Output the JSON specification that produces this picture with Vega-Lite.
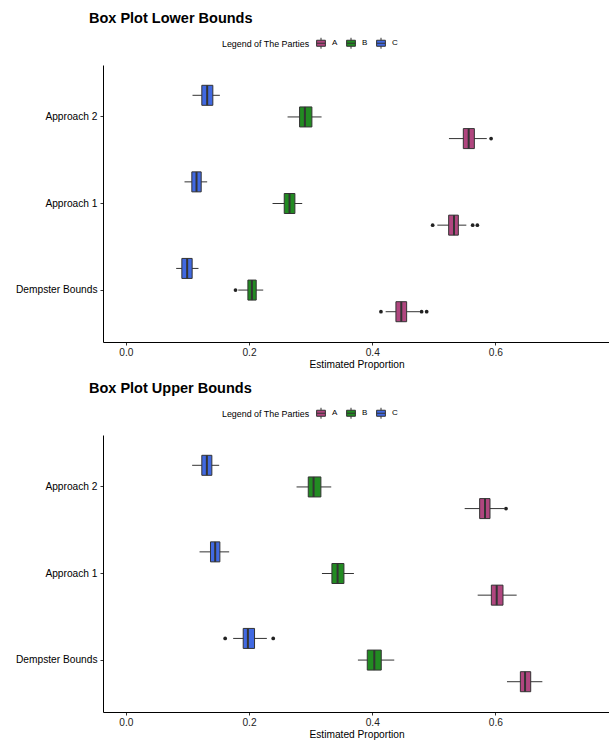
{
  "$schema": "https://vega.github.io/schema/vega-lite/v6.json",
  "padding": {"left": 15, "top": 10, "right": 0, "bottom": 0},
  "background": "white",
  "config": {
    "font": "Liberation Sans",
    "view": {"stroke": null},
    "axis": {"grid": false, "domainColor": "#000000", "domainWidth": 1, "tickColor": "#333333", "tickSize": 3, "labelFontSize": 10.2, "labelColor": "#222222", "titleFontSize": 10.2, "titleFontWeight": "normal", "titleColor": "#000000"},
    "title": {"fontSize": 14.5, "fontWeight": "bold", "color": "#000000", "anchor": "start", "frame": "group", "dx": -14, "offset": 11},
    "legend": {"titleFontSize": 8.9, "titleFontWeight": "normal", "labelFontSize": 8, "titleColor": "#000000", "labelColor": "#000000"}
  },
  "datasets": {
    "lower": [
      {"method": "Approach 2", "party": "C", "lo": 0.1083, "q1": 0.1234, "med": 0.1321, "q3": 0.1413, "hi": 0.1527},
      {"method": "Approach 2", "party": "B", "lo": 0.2626, "q1": 0.2821, "med": 0.2907, "q3": 0.3021, "hi": 0.3178},
      {"method": "Approach 2", "party": "A", "lo": 0.5246, "q1": 0.5479, "med": 0.5566, "q3": 0.5658, "hi": 0.5860},
      {"method": "Approach 1", "party": "C", "lo": 0.0953, "q1": 0.1072, "med": 0.1148, "q3": 0.1224, "hi": 0.1321},
      {"method": "Approach 1", "party": "B", "lo": 0.2382, "q1": 0.2572, "med": 0.2658, "q3": 0.2745, "hi": 0.2864},
      {"method": "Approach 1", "party": "A", "lo": 0.5057, "q1": 0.5241, "med": 0.5328, "q3": 0.5398, "hi": 0.5528},
      {"method": "Dempster Bounds", "party": "C", "lo": 0.0818, "q1": 0.0910, "med": 0.0996, "q3": 0.1077, "hi": 0.1180},
      {"method": "Dempster Bounds", "party": "B", "lo": 0.1825, "q1": 0.1982, "med": 0.2047, "q3": 0.2117, "hi": 0.2231},
      {"method": "Dempster Bounds", "party": "A", "lo": 0.4218, "q1": 0.4385, "med": 0.4472, "q3": 0.4559, "hi": 0.4775}
    ],
    "lowerOut": [
      {"method": "Approach 2", "party": "A", "value": 0.5930},
      {"method": "Approach 1", "party": "A", "value": 0.4981},
      {"method": "Approach 1", "party": "A", "value": 0.5631},
      {"method": "Approach 1", "party": "A", "value": 0.5707},
      {"method": "Dempster Bounds", "party": "B", "value": 0.1781},
      {"method": "Dempster Bounds", "party": "A", "value": 0.4142},
      {"method": "Dempster Bounds", "party": "A", "value": 0.4802},
      {"method": "Dempster Bounds", "party": "A", "value": 0.4884}
    ],
    "upper": [
      {"method": "Approach 2", "party": "C", "lo": 0.1077, "q1": 0.1234, "med": 0.1316, "q3": 0.1397, "hi": 0.1516},
      {"method": "Approach 2", "party": "B", "lo": 0.2772, "q1": 0.2962, "med": 0.3048, "q3": 0.3167, "hi": 0.3335},
      {"method": "Approach 2", "party": "A", "lo": 0.5501, "q1": 0.5744, "med": 0.5831, "q3": 0.5912, "hi": 0.6145},
      {"method": "Approach 1", "party": "C", "lo": 0.1197, "q1": 0.1375, "med": 0.1451, "q3": 0.1527, "hi": 0.1678},
      {"method": "Approach 1", "party": "B", "lo": 0.3184, "q1": 0.3346, "med": 0.3438, "q3": 0.3541, "hi": 0.3703},
      {"method": "Approach 1", "party": "A", "lo": 0.5712, "q1": 0.5934, "med": 0.6021, "q3": 0.6123, "hi": 0.6345},
      {"method": "Dempster Bounds", "party": "C", "lo": 0.1743, "q1": 0.1906, "med": 0.1982, "q3": 0.2090, "hi": 0.2290},
      {"method": "Dempster Bounds", "party": "B", "lo": 0.3768, "q1": 0.3920, "med": 0.4034, "q3": 0.4147, "hi": 0.4358},
      {"method": "Dempster Bounds", "party": "A", "lo": 0.6188, "q1": 0.6405, "med": 0.6481, "q3": 0.6573, "hi": 0.6762}
    ],
    "upperOut": [
      {"method": "Approach 2", "party": "A", "value": 0.6172},
      {"method": "Dempster Bounds", "party": "C", "value": 0.1613},
      {"method": "Dempster Bounds", "party": "C", "value": 0.2393}
    ]
  },
  "resolve": {"legend": {"color": "independent"}},
  "spacing": 10,
  "vconcat": [
    {
      "title": "Box Plot Lower Bounds",
      "width": 507,
      "height": 277,
      "encoding": {
        "y": {"field": "method", "type": "nominal", "title": null, "sort": ["Approach 2", "Approach 1", "Dempster Bounds"], "scale": {"domain": ["Approach 2", "Approach 1", "Dempster Bounds"], "paddingInner": 0.25, "paddingOuter": 0.225}, "axis": {"labelColor": "#000000", "labelPadding": 3}},
        "yOffset": {"field": "party", "type": "nominal", "sort": ["C", "B", "A"], "scale": {"domain": ["C", "B", "A"], "paddingInner": 0, "paddingOuter": 0}}
      },
      "layer": [
        {
          "data": {"name": "lower"},
          "mark": {"type": "rule", "color": "#333333", "strokeWidth": 1},
          "encoding": {
            "x": {"field": "lo", "type": "quantitative", "title": "Estimated Proportion", "scale": {"domain": [-0.037, 0.786], "nice": false, "zero": false}, "axis": {"values": [0, 0.2, 0.4, 0.6], "format": ".1f", "labelPadding": 2, "titlePadding": 2}},
            "x2": {"field": "hi"}
          }
        },
        {
          "data": {"name": "lower"},
          "mark": {"type": "bar", "size": 20, "stroke": "#333333", "strokeWidth": 1, "opacity": 1},
          "encoding": {
            "x": {"field": "q1", "type": "quantitative"},
            "x2": {"field": "q3"},
            "color": {"field": "party", "type": "nominal", "scale": {"domain": ["A", "B", "C"], "range": ["#B0467F", "#228B22", "#4169E1"]}, "legend": {"orient": "none", "legendX": 119, "legendY": -28, "direction": "horizontal", "title": "Legend of The Parties", "titleOrient": "left", "titlePadding": 5, "symbolType": "M-0.8,-0.55H0.8V0.55H-0.8Z M-0.8,0H0.8 M0,-1V-0.55 M0,0.55V1", "symbolSize": 120, "symbolStrokeColor": "#333333", "symbolStrokeWidth": 1, "symbolOpacity": 1, "columnPadding": 6, "labelOffset": 5}}
          }
        },
        {
          "data": {"name": "lower"},
          "mark": {"type": "tick", "orient": "vertical", "size": 20, "thickness": 2, "color": "#333333", "opacity": 1},
          "encoding": {"x": {"field": "med", "type": "quantitative"}}
        },
        {
          "data": {"name": "lowerOut"},
          "mark": {"type": "circle", "size": 14, "color": "#222222", "opacity": 1},
          "encoding": {"x": {"field": "value", "type": "quantitative"}}
        }
      ]
    },
    {
      "title": "Box Plot Upper Bounds",
      "width": 507,
      "height": 277,
      "encoding": {
        "y": {"field": "method", "type": "nominal", "title": null, "sort": ["Approach 2", "Approach 1", "Dempster Bounds"], "scale": {"domain": ["Approach 2", "Approach 1", "Dempster Bounds"], "paddingInner": 0.25, "paddingOuter": 0.225}, "axis": {"labelColor": "#000000", "labelPadding": 3}},
        "yOffset": {"field": "party", "type": "nominal", "sort": ["C", "B", "A"], "scale": {"domain": ["C", "B", "A"], "paddingInner": 0, "paddingOuter": 0}}
      },
      "layer": [
        {
          "data": {"name": "upper"},
          "mark": {"type": "rule", "color": "#333333", "strokeWidth": 1},
          "encoding": {
            "x": {"field": "lo", "type": "quantitative", "title": "Estimated Proportion", "scale": {"domain": [-0.037, 0.786], "nice": false, "zero": false}, "axis": {"values": [0, 0.2, 0.4, 0.6], "format": ".1f", "labelPadding": 2, "titlePadding": 2}},
            "x2": {"field": "hi"}
          }
        },
        {
          "data": {"name": "upper"},
          "mark": {"type": "bar", "size": 20, "stroke": "#333333", "strokeWidth": 1, "opacity": 1},
          "encoding": {
            "x": {"field": "q1", "type": "quantitative"},
            "x2": {"field": "q3"},
            "color": {"field": "party", "type": "nominal", "scale": {"domain": ["A", "B", "C"], "range": ["#B0467F", "#228B22", "#4169E1"]}, "legend": {"orient": "none", "legendX": 119, "legendY": -28, "direction": "horizontal", "title": "Legend of The Parties", "titleOrient": "left", "titlePadding": 5, "symbolType": "M-0.8,-0.55H0.8V0.55H-0.8Z M-0.8,0H0.8 M0,-1V-0.55 M0,0.55V1", "symbolSize": 120, "symbolStrokeColor": "#333333", "symbolStrokeWidth": 1, "symbolOpacity": 1, "columnPadding": 6, "labelOffset": 5}}
          }
        },
        {
          "data": {"name": "upper"},
          "mark": {"type": "tick", "orient": "vertical", "size": 20, "thickness": 2, "color": "#333333", "opacity": 1},
          "encoding": {"x": {"field": "med", "type": "quantitative"}}
        },
        {
          "data": {"name": "upperOut"},
          "mark": {"type": "circle", "size": 14, "color": "#222222", "opacity": 1},
          "encoding": {"x": {"field": "value", "type": "quantitative"}}
        }
      ]
    }
  ]
}
